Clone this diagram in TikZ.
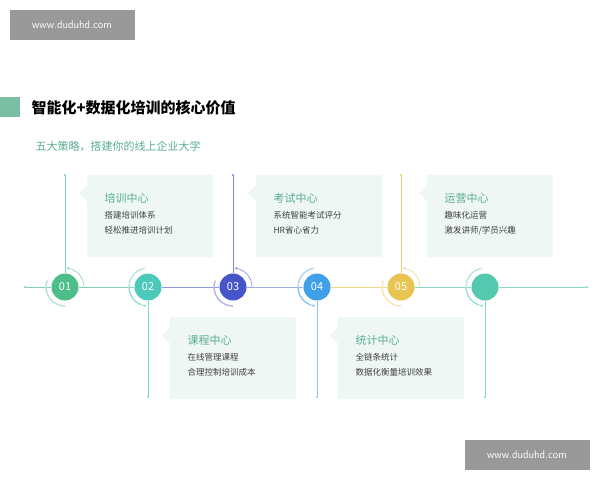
\documentclass[tikz,border=0pt]{standalone}
\usepackage{fontspec}
\newfontfamily\cjk{Noto Sans CJK SC}
\begin{document}
\begin{tikzpicture}[x=1pt,y=-1pt,
  box/.style={fill=boxc,inner sep=0,minimum width=126pt,minimum height=82pt},
  num/.style={circle,minimum size=27pt,inner sep=0,text=white,font=\cjk\fontsize{11}{11}\selectfont},
  halo/.style={line width=0.6pt},
  btitle/.style={anchor=west,text=titc,font=\cjk\fontsize{11}{12}\selectfont},
  btext/.style={anchor=north west,align=left,text=black!75,font=\cjk\fontsize{8.5}{15}\selectfont}]
\definecolor{boxc}{HTML}{EEF7F4}
\definecolor{titc}{HTML}{5AAE8E}
\definecolor{ca}{HTML}{4DBE8A}
\definecolor{cb}{HTML}{4CC9B8}
\definecolor{cc}{HTML}{4655C8}
\definecolor{cd}{HTML}{3FA0E8}
\definecolor{ce}{HTML}{E8C453}
\definecolor{cf}{HTML}{55C9B0}
\useasboundingbox (0,0) rectangle (600,480);
\fill[white] (0,0) rectangle (600,480);
% watermarks
\node[fill=black!40,text=white,minimum width=125pt,minimum height=30pt,font=\sffamily\fontsize{11}{11}\selectfont] (w1) at (72,25) {www.duduhd.com};
\node[fill=black!40,text=white,minimum width=125pt,minimum height=30pt,font=\sffamily\fontsize{11}{11}\selectfont] (w2) at (527,455) {www.duduhd.com};
% title
\fill[titc!80] (0,97) rectangle (20,117);
\node[anchor=west,font=\cjk\bfseries\fontsize{15}{15}\selectfont] (t) at (28,108) {智能化+数据化培训的核心价值};
\node[anchor=west,text=titc,font=\cjk\fontsize{11}{11}\selectfont] (s) at (32,146) {五大策略，搭建你的线上企业大学};
% boxes
\node[box,anchor=north west] (b1) at (87,175) {};
\node[box,anchor=north west] (b3) at (256,175) {};
\node[box,anchor=north west] (b5) at (427,175) {};
\node[box,anchor=north west] (b2) at (170,317) {};
\node[box,anchor=north west] (b4) at (338,317) {};
\foreach \b/\t/\x in {b1/培训中心/{搭建培训体系\\轻松推进培训计划},b3/考试中心/{系统智能考试评分\\HR省心省力},b5/运营中心/{趣味化运营\\激发讲师/学员兴趣},b2/课程中心/{在线管理课程\\合理控制培训成本},b4/统计中心/{全链条统计\\数据化衡量培训效果}}{
  \fill[boxc] ([shift={(0,10)}]\b.north west) -- ++(-8,8) -- ++(8,8) -- cycle;
  \node[btitle] at ([shift={(14,23)}]\b.north west) {\t};
  \node[btext] at ([shift={(14,33)}]\b.north west) {\x};
}
% nodes
\coordinate (L) at (25,287);
\coordinate (R) at (587,287);
\node[num,fill=ca] (n1) at (65,287) {01};
\node[num,fill=cb] (n2) at (148,287) {02};
\node[num,fill=cc] (n3) at (233,287) {03};
\node[num,fill=cd] (n4) at (317,287) {04};
\node[num,fill=ce] (n5) at (401,287) {05};
\node[num,fill=cf] (n6) at (485,287) {};
\coordinate (u1) at (65,175); \coordinate (u3) at (233,175); \coordinate (u5) at (401,175);
\coordinate (d2) at (148,397); \coordinate (d4) at (317,397); \coordinate (d6) at (485,397);
% main line
\draw[ca!70,halo] (L) -- (n1);
\draw[ca!70,halo] (n1) -- (n2);
\draw[cc!60,halo] (n2) -- (n3);
\draw[cc!50,halo] (n3) -- (n4);
\draw[ce!70,halo] (n4) -- (n5);
\draw[cf!70,halo] (n5) -- (n6);
\draw[cf!70,halo] (n6) -- (R);
\fill[ca!70] (L) circle (1.2);
\fill[cf!70] (R) circle (1.2);
% verticals
\draw[ca!70,halo] (n1) -- (u1); \fill[ca!70] (u1) circle (1.2);
\draw[cc!70,halo] (n3) -- (u3); \fill[cc!70] (u3) circle (1.2);
\draw[ce!80,halo] (n5) -- (u5); \fill[ce!80] (u5) circle (1.2);
\draw[cb!70,halo] (n2) -- (d2); \fill[cb!70] (d2) circle (1.2);
\draw[cd!60,halo] (n4) -- (d4); \fill[cd!60] (d4) circle (1.2);
\draw[cf!70,halo] (n6) -- (d6); \fill[cf!70] (d6) circle (1.2);
% halo arcs
\foreach \n/\c/\s/\e in {n1/ca/200/90,n2/cb/-100/-250,n3/cc/200/90,n4/cd/-100/-250,n5/ce/200/90,n6/cf/-100/-250}{
  \draw[\c!40,line width=1.5pt] (\n.center) ++(\s:19) arc (\s:\e:19);
}
\foreach \n/\c/\s/\e in {n1/ca/0/-80,n2/cb/180/100,n3/cc/0/-80,n4/cd/180/100,n5/ce/0/-80,n6/cf/180/100}{
  \draw[\c!70,halo] (\n.center) ++(\s:19) arc (\s:\e:19); \fill[\c!70] (\n.center) ++(\e:19) circle (1.2);
}
\end{tikzpicture}
\end{document}
